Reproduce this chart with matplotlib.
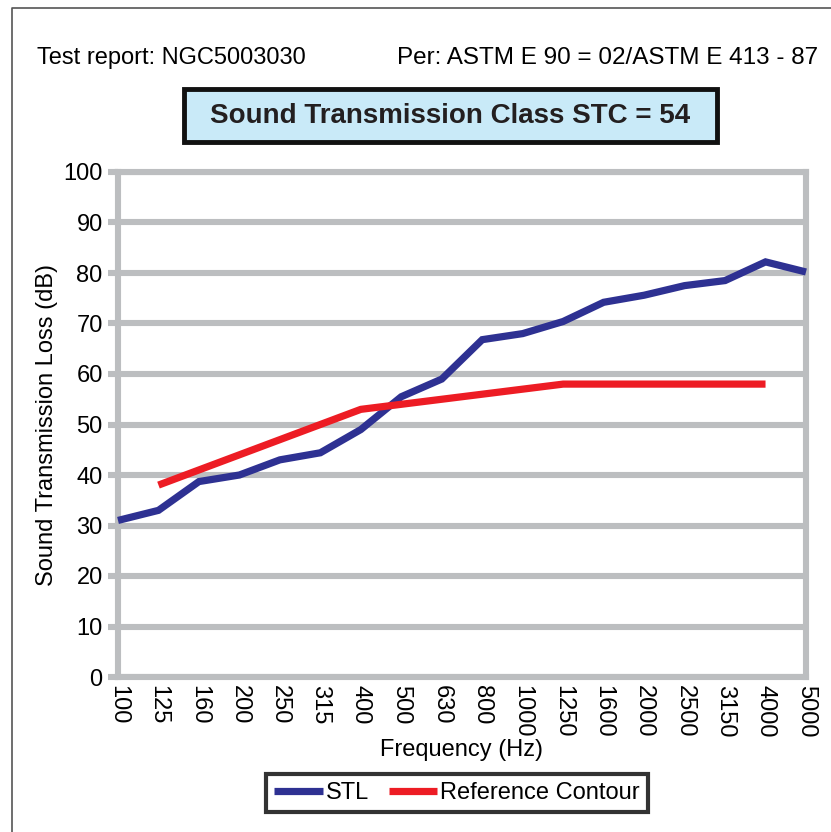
import matplotlib
matplotlib.use("Agg")
import numpy as np
import matplotlib.pyplot as plt
from matplotlib.lines import Line2D
from matplotlib.patches import Rectangle

plt.rcParams["font.family"] = ["Liberation Sans", "DejaVu Sans"]

# 1/3 octave band centre frequencies (Hz)
freqs = ["100", "125", "160", "200", "250", "315", "400", "500", "630", "800",
         "1000", "1250", "1600", "2000", "2500", "3150", "4000", "5000"]
# measured sound transmission loss (dB)
stl = [31, 33, 38.7, 40, 43, 44.4, 49, 55.5, 59, 66.8,
       68, 70.4, 74.2, 75.6, 77.5, 78.5, 82.2, 80.2]
# STC 54 reference contour (125 - 4000 Hz)
ref = [np.nan, 38, 41, 44, 47, 50, 53, 54, 55, 56,
       57, 58, 58, 58, 58, 58, 58, np.nan]

grid_col = "#bcbec0"
blue = "#2e3192"
red = "#ed1c24"
fs = 17

fig = plt.figure(figsize=(8.31, 8.32), dpi=100)
ax = fig.add_axes([118 / 831, 1 - 677 / 832, 688 / 831, 505 / 832])

x = np.arange(len(freqs))
ax.plot(x, stl, color=blue, lw=5.2, solid_capstyle="butt", solid_joinstyle="miter",
        clip_on=False, zorder=3, label="STL")
ax.plot(x, ref, color=red, lw=5.2, solid_capstyle="butt", clip_on=False,
        zorder=3, label="Reference Contour")

ax.set_xlim(0, len(freqs) - 1)
ax.set_ylim(0, 100)

# labels on every band, grid on every other band
ax.set_xticks(x)
ax.set_xticklabels(freqs, rotation=-90, fontsize=fs, va="top", ha="center")
ax.tick_params(axis="x", which="major", length=0, pad=6)
ax.set_xticks(list(x[::2]) + [x[-1]], minor=True)
ax.tick_params(axis="x", which="minor", length=9, width=4.4, color=grid_col)
ax.grid(True, axis="x", which="minor", color=grid_col, lw=4.4, zorder=1)

ax.set_yticks(np.arange(0, 101, 10))
ax.tick_params(axis="y", labelsize=fs, length=7, width=4.4, color=grid_col, pad=4)
ax.grid(True, axis="y", which="major", color=grid_col, lw=4.4, zorder=1)
ax.set_axisbelow(True)

for s in ax.spines.values():
    s.set_color(grid_col)
    s.set_linewidth(4.4)

ax.set_xlabel("Frequency (Hz)", fontsize=fs, labelpad=1)
ax.set_ylabel("Sound Transmission Loss (dB)", fontsize=fs, labelpad=4)

leg = ax.legend(loc="center", bbox_to_anchor=(457 / 831, 1 - 793 / 832),
                bbox_transform=fig.transFigure, ncol=2, fontsize=fs,
                frameon=True, fancybox=False, handlelength=2.05,
                handletextpad=0.12, columnspacing=0.85, borderpad=0.35,
                borderaxespad=0)
leg.get_frame().set_edgecolor("black")
leg.get_frame().set_linewidth(3)
for h in leg.get_lines():
    h.set_linewidth(5.2)

# header texts
fig.text(37 / 831, 1 - 58 / 832, "Test report: NGC5003030", fontsize=fs,
         ha="left", va="center")
fig.text(818 / 831, 1 - 58 / 832, "Per: ASTM E 90 = 02/ASTM E 413 - 87",
         fontsize=17.5, ha="right", va="center")

# STC title box
fig.add_artist(Rectangle((184 / 831, 1 - 142 / 832), 533 / 831, 53 / 832,
                         transform=fig.transFigure, facecolor="#c9eaf8",
                         edgecolor="#111111", lw=3.5))
fig.text(450 / 831, 1 - 116 / 832, "Sound Transmission Class STC = 54",
         fontsize=20, fontweight="bold", ha="center", va="center", color="#231f20")

# outer frame
fig.add_artist(Line2D([12 / 831, 12 / 831, 1], [0, 1 - 8 / 832, 1 - 8 / 832],
                      transform=fig.transFigure, color="#555555", lw=1.2))

fig.savefig("out.png", dpi=100)
